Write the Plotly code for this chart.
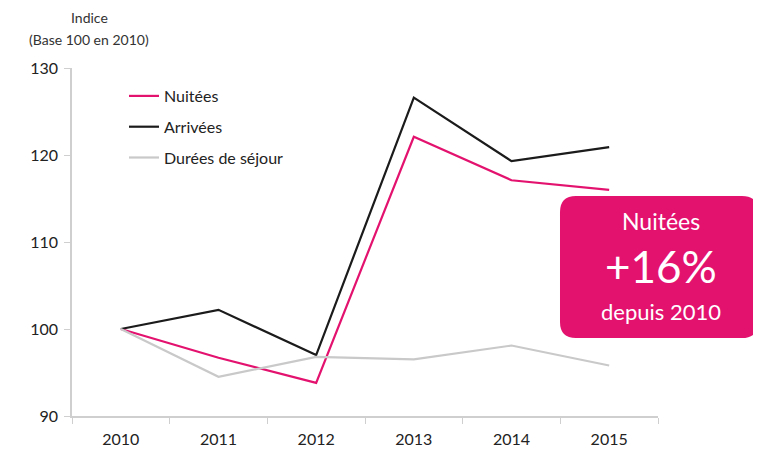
import plotly.graph_objects as go

years = ["2010", "2011", "2012", "2013", "2014", "2015"]
nuitees = [100, 96.7, 93.8, 122.1, 117.1, 116.0]
arrivees = [100, 102.2, 97.0, 126.6, 119.3, 120.9]
durees = [100, 94.5, 96.8, 96.5, 98.1, 95.8]
y_ticks = [90, 100, 110, 120, 130]

PINK = "#E3126F"
FONT = "Lato, 'Open Sans', sans-serif"

fig = go.Figure()
fig.add_trace(go.Scatter(x=years, y=nuitees, mode="lines", name="Nuitées", legendgroup="a",
                         line=dict(color=PINK, width=2.2)))
fig.add_trace(go.Scatter(x=years, y=arrivees, mode="lines", name="Arrivées", legendgroup="b",
                         line=dict(color="#1b1b1b", width=2.2)))
fig.add_trace(go.Scatter(x=years, y=durees, mode="lines", name="Durées de séjour", legendgroup="c",
                         line=dict(color="#c9c9c9", width=2.2)))

OFF = 8  # page body margin
W, H = 761 - OFF, 454 - OFF
L, T = 72 - OFF, 68 - OFF
R = W - (658 - OFF)
B = H - (416 - OFF)
pw, ph = W - L - R, H - T - B

def px2paper(x, y):
    return (x - OFF - L) / pw, (H - B - (y - OFF)) / ph

x0, y0, x1, y1, r = 560, 196, 758, 338, 16
def pt(x, y):
    a, b = px2paper(x, y)
    return f"{a:.5f},{b:.5f}"
path = (f"M {pt(x0 + r, y0)} L {pt(x1 - r, y0)} Q {pt(x1, y0)} {pt(x1, y0 + r)} "
        f"L {pt(x1, y1 - r)} Q {pt(x1, y1)} {pt(x1 - r, y1)} "
        f"L {pt(x0 + r, y1)} Q {pt(x0, y1)} {pt(x0, y1 - r)} "
        f"L {pt(x0, y0 + r)} Q {pt(x0, y0)} {pt(x0 + r, y0)} Z")
fig.add_shape(type="path", path=path, xref="paper", yref="paper",
              fillcolor=PINK, line=dict(width=0), layer="above")

cx = (x0 + x1) / 2 + 2
for txt, yy, sz in [("Nuitées", 221, 23), ("+16%", 266, 44), ("depuis 2010", 311, 22)]:
    a, b = px2paper(cx, yy)
    fig.add_annotation(x=a, y=b, xref="paper", yref="paper", text=txt, showarrow=False,
                       font=dict(color="white", size=sz, family=FONT),
                       xanchor="center", yanchor="middle")

for txt, yy in [("Indice", 18), ("(Base 100 en 2010)", 40)]:
    a, b = px2paper(89, yy)
    fig.add_annotation(x=a, y=b, xref="paper", yref="paper", text=txt, showarrow=False,
                       font=dict(color="#333", size=14, family=FONT),
                       xanchor="center", yanchor="middle")

lx, ly = px2paper(124, 79)
fig.update_layout(
    width=W, height=H,
    margin=dict(l=L, r=R, t=T, b=B, autoexpand=False),
    paper_bgcolor="white", plot_bgcolor="white",
    font=dict(family=FONT, color="#222", size=15),
    showlegend=True,
    legend=dict(x=lx, y=ly, xanchor="left", yanchor="top", bgcolor="rgba(0,0,0,0)",
                font=dict(size=16, color="#222"), itemwidth=30, traceorder="grouped",
                tracegroupgap=7),
    xaxis=dict(type="category", range=[-0.5, 5.5], showgrid=False, showline=True,
               linecolor="#cfcfcf", linewidth=1.5,
               ticks="outside", tickson="boundaries", ticklen=6, tickcolor="#cfcfcf",
               ticklabelstandoff=8,
               tickfont=dict(size=16, color="#222"), zeroline=False),
    yaxis=dict(range=[90, 130], tickvals=y_ticks, showgrid=False, showline=True,
               linecolor="#cfcfcf", linewidth=1.5, ticks="outside", ticklen=6, tickcolor="#cfcfcf",
               ticklabelstandoff=3,
               tickfont=dict(size=16, color="#222"), zeroline=False),
)
fig.write_html("out.html")
